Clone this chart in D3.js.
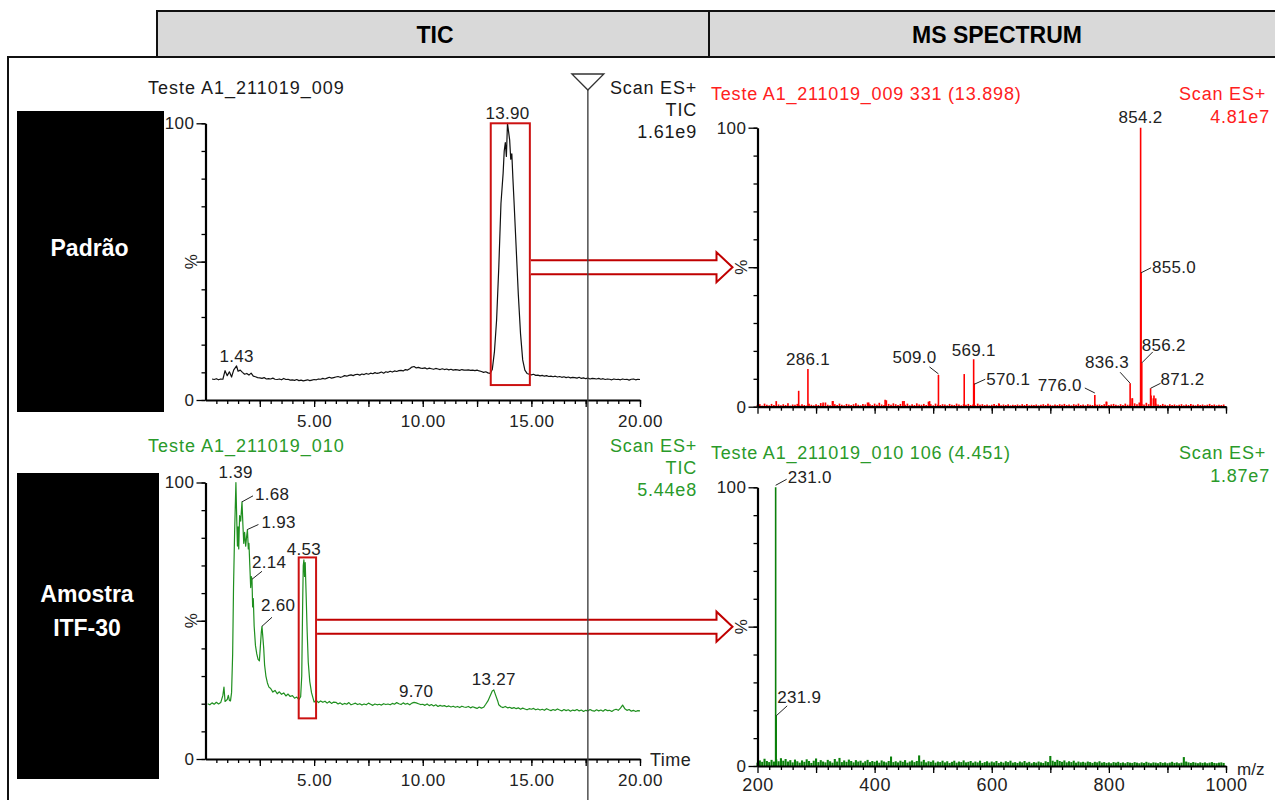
<!DOCTYPE html>
<html><head><meta charset="utf-8">
<script src="https://cdn.jsdelivr.net/npm/d3@7"></script>
<style>
body{margin:0;background:#fff;}
svg{display:block;}
</style></head><body>
<svg id="c" width="1275" height="800"></svg>
<script>
// ---------------- DATA ----------------
const headerLabels = ["TIC", "MS SPECTRUM"];
const sampleLabels = [["Padrão"], ["Amostra", "ITF-30"]];
const ticTitles = ["Teste A1_211019_009", "Teste A1_211019_010"];
const ticInfo = [["Scan ES+", "TIC", "1.61e9"], ["Scan ES+", "TIC", "5.44e8"]];
const msTitles = ["Teste A1_211019_009 331 (13.898)", "Teste A1_211019_010 106 (4.451)"];
const msInfo = [["Scan ES+", "4.81e7"], ["Scan ES+", "1.87e7"]];
const ticTickValues = [5, 10, 15, 20];
const ticTickLabels = ["5.00", "10.00", "15.00", "20.00"];
const mzTickValues = [200, 400, 600, 800, 1000];
const mzTickLabels = ["200", "400", "600", "800", "1000"];
const cursorTime = 17.6;

// TIC, standard (time min, % intensity)
const ticStandard = [[0.3,7.6],[0.4,7.4],[0.5,7.7],[0.6,7.3],[0.7,7.6],[0.8,7.5],[0.9,10.6],[1.0,8.8],[1.1,10.2],[1.2,8.3],[1.3,10.9],[1.43,12.3],[1.5,10.4],[1.6,10.8],[1.7,10.0],[1.8,9.3],[1.9,9.6],
[2.0,9.0],[2.1,9.7],[2.2,8.6],[2.3,8.4],[2.4,8.1],[2.5,8.0],[2.6,7.8],[2.7,8.1],[2.8,7.6],[2.9,7.7],
[3.0,7.6],[3.1,7.9],[3.2,7.5],[3.3,7.4],[3.4,7.6],[3.5,7.3],[3.6,7.8],[3.7,7.4],[3.8,7.5],[3.9,7.2],
[4.0,7.3],[4.1,7.1],[4.2,7.4],[4.3,7.0],[4.4,7.2],[4.5,6.9],[4.6,7.1],[4.7,7.3],[4.8,7.0],[4.9,7.2],
[5.0,7.4],[5.1,7.3],[5.2,7.6],[5.3,7.5],[5.4,7.8],[5.5,7.6],[5.6,7.9],[5.7,8.2],[5.8,7.9],[5.9,8.1],
[6.0,8.3],[6.1,8.5],[6.2,8.2],[6.3,8.4],[6.4,8.8],[6.5,8.6],[6.6,8.9],[6.7,9.1],[6.8,8.8],[6.9,9.2],
[7.0,9.3],[7.1,9.0],[7.2,9.4],[7.3,9.2],[7.4,9.6],[7.5,9.3],[7.6,9.7],[7.7,9.5],[7.8,9.9],[7.9,9.6],
[8.0,9.8],[8.1,10.1],[8.2,9.7],[8.3,10.2],[8.4,10.0],[8.5,10.4],[8.6,10.1],[8.7,10.5],[8.8,10.3],[8.9,10.6],
[9.0,10.7],[9.1,10.5],[9.2,11.0],[9.3,10.8],[9.4,11.3],[9.5,11.9],[9.6,12.1],[9.7,11.6],[9.8,11.8],[9.9,11.5],
[10.0,11.4],[10.1,11.6],[10.2,11.2],[10.3,11.5],[10.4,11.3],[10.5,11.1],[10.6,11.4],[10.7,11.2],[10.8,11.0],[10.9,11.3],
[11.0,11.0],[11.1,11.2],[11.2,10.9],[11.3,11.1],[11.4,10.8],[11.5,11.0],[11.6,10.9],[11.7,10.7],[11.8,11.0],[11.9,10.8],
[12.0,10.8],[12.1,10.9],[12.2,10.7],[12.3,10.8],[12.4,10.6],[12.5,10.8],[12.6,10.5],[12.7,10.3],[12.8,10.0],[12.9,10.2],
[13.0,9.8],[13.1,9.6],[13.2,11.0],[13.3,17.5],[13.4,29],[13.5,48],[13.6,71],[13.7,82],[13.75,90],[13.8,93],[13.85,88],[13.9,100],[13.95,97],[14.0,94],[14.05,87],[14.1,89],[14.15,80],[14.2,72],[14.3,55],[14.4,38],[14.5,24],[14.6,14.5],[14.7,10.8],[14.8,9.6],[14.9,9.3],
[15.0,9.1],[15.1,9.3],[15.2,8.9],[15.3,9.0],[15.4,8.7],[15.5,8.9],[15.6,8.6],[15.7,8.8],[15.8,8.5],[15.9,8.6],
[16.0,8.4],[16.1,8.6],[16.2,8.3],[16.3,8.5],[16.4,8.2],[16.5,8.4],[16.6,8.1],[16.7,8.3],[16.8,8.0],[16.9,8.2],
[17.0,8.1],[17.1,7.9],[17.2,8.2],[17.3,7.8],[17.4,8.0],[17.5,7.7],[17.6,7.9],[17.7,7.6],[17.8,7.8],[17.9,7.7],
[18.0,7.6],[18.1,7.8],[18.2,7.5],[18.3,7.7],[18.4,7.4],[18.5,7.6],[18.6,7.5],[18.7,7.3],[18.8,7.6],[18.9,7.4],
[19.0,7.5],[19.1,7.3],[19.2,7.6],[19.3,7.4],[19.4,7.5],[19.5,7.2],[19.6,7.5],[19.7,7.6],[19.8,7.3],[19.9,7.5],[20.0,7.4]];

// TIC, sample ITF-30
const ticSample = [[0.1,20.0],[0.2,19.6],[0.3,20.3],[0.4,19.8],[0.5,20.5],[0.6,19.9],[0.7,20.4],[0.8,23.0],[0.85,26.0],[0.9,20.8],[1.0,21.5],[1.05,23.0],[1.1,21.2],[1.15,21.0],
[1.2,24],[1.25,38],[1.29,62],[1.34,82],[1.40,100],[1.44,86],[1.47,77],[1.5,84],[1.53,76],[1.57,88],[1.62,86],[1.68,93],[1.72,85],[1.76,78],[1.8,82],[1.85,77],[1.9,81],[1.93,83],[1.97,76],[2.0,78],[2.04,70],[2.08,62],[2.11,66],[2.14,65],[2.17,55],[2.2,58],[2.24,48],[2.3,41],[2.36,38],[2.42,36],[2.48,35.5],[2.52,40],[2.57,46],[2.6,48],[2.63,45],[2.68,40],[2.72,34],[2.78,30],[2.85,27.5],[2.92,26],
[3.0,25.5],[3.1,24.2],[3.2,24.8],[3.3,23.6],[3.4,24.3],[3.5,23.4],[3.6,23.9],[3.7,22.8],[3.8,23.5],[3.9,22.6],
[4.0,22.9],[4.1,22.0],[4.2,22.4],[4.3,21.5],[4.38,22.5],[4.43,30],[4.47,55],[4.5,70],[4.53,72],[4.56,66],[4.59,71],[4.63,60],[4.68,46],[4.73,35],[4.8,28],[4.88,24],[4.95,22],
[5.0,20.6],[5.1,21.2],[5.2,20.4],[5.3,21.0],[5.4,20.5],[5.5,20.9],[5.6,20.2],[5.7,20.8],[5.8,20.1],[5.9,20.6],
[6.0,20.5],[6.1,19.9],[6.2,20.3],[6.3,19.7],[6.4,20.1],[6.5,19.8],[6.6,20.4],[6.7,19.6],[6.8,19.9],[6.9,20.2],
[7.0,19.7],[7.1,20.0],[7.2,19.5],[7.3,19.9],[7.4,19.6],[7.5,20.2],[7.6,19.8],[7.7,19.4],[7.8,19.9],[7.9,19.6],
[8.0,19.8],[8.1,19.5],[8.2,20.0],[8.3,19.7],[8.4,19.9],[8.5,19.6],[8.6,20.1],[8.7,19.8],[8.8,20.4],[8.9,20.0],
[9.0,19.7],[9.1,20.3],[9.2,19.8],[9.3,20.1],[9.4,19.6],[9.5,20.2],[9.6,20.5],[9.7,20.3],[9.8,20.0],[9.9,19.7],
[10.0,19.8],[10.1,19.4],[10.2,19.9],[10.3,19.3],[10.4,19.7],[10.5,19.2],[10.6,19.6],[10.7,19.0],[10.8,19.4],[10.9,19.1],
[11.0,19.3],[11.1,18.9],[11.2,19.2],[11.3,18.8],[11.4,19.1],[11.5,18.7],[11.6,19.0],[11.7,18.6],[11.8,19.1],[11.9,18.8],
[12.0,18.7],[12.1,19.0],[12.2,18.5],[12.3,18.9],[12.4,18.6],[12.5,18.3],[12.6,18.8],[12.7,18.4],[12.8,18.7],[12.9,19.8],
[13.0,21.0],[13.1,22.8],[13.2,24.6],[13.27,25.0],[13.35,23.2],[13.45,21.0],[13.5,19.6],[13.6,18.9],[13.7,18.6],[13.8,19.0],[13.9,18.5],
[14.0,18.7],[14.1,18.3],[14.2,18.6],[14.3,18.2],[14.4,18.5],[14.5,18.0],[14.6,18.4],[14.7,18.1],[14.8,17.8],[14.9,18.2],
[15.0,18.0],[15.1,18.3],[15.2,17.8],[15.3,18.1],[15.4,17.7],[15.5,18.0],[15.6,17.6],[15.7,18.2],[15.8,17.8],[15.9,17.5],
[16.0,17.9],[16.1,17.6],[16.2,18.1],[16.3,17.7],[16.4,17.4],[16.5,17.9],[16.6,17.5],[16.7,17.8],[16.8,17.3],[16.9,17.7],
[17.0,17.5],[17.1,17.9],[17.2,17.4],[17.3,17.7],[17.4,17.2],[17.5,17.6],[17.6,17.4],[17.7,17.9],[17.8,17.5],[17.9,17.3],
[18.0,17.8],[18.1,17.4],[18.2,17.7],[18.3,17.3],[18.4,17.9],[18.5,17.5],[18.6,17.6],[18.7,17.2],[18.8,17.7],[18.9,18.0],
[19.0,17.6],[19.1,18.4],[19.2,19.5],[19.3,18.2],[19.4,17.6],[19.5,17.9],[19.6,17.3],[19.7,17.6],[19.8,17.2],[19.9,17.5],[20.0,17.4]];

// labelled TIC peaks (time, % at label)
const ticStandardPeaks = [{label:"1.43", t:1.43, v:12.3}, {label:"13.90", t:13.90, v:100}];
const ticSamplePeaks = [{label:"1.39", t:1.39, v:100}, {label:"1.68", t:1.68, v:93}, {label:"1.93", t:1.93, v:83},
  {label:"2.14", t:2.14, v:65}, {label:"2.60", t:2.60, v:48}, {label:"4.53", t:4.53, v:72},
  {label:"9.70", t:9.70, v:20.5}, {label:"13.27", t:13.27, v:25}];

// selected scan windows on the TIC: [t start, t end, % low, % high]
const selectStandard = [13.13, 14.93, 5.4, 100];
const selectSample = [4.29, 5.09, 14.7, 72.9];

// MS spectrum, standard (scan 331)
const msStandardMz  = [270.3, 286.1, 312.0, 328.9, 389.9, 417.9, 450.3, 493.9, 509.0, 553.0, 569.1, 570.1, 612.8, 776.0, 795.8, 836.3, 840.0, 854.2, 855.0, 856.2, 871.2, 877.0, 880.0];
const msStandardInt = [5.7, 13.5, 1.5, 2.0, 1.5, 2.5, 2.0, 2.0, 11.4, 11.7, 17.0, 8.4, 1.0, 4.2, 1.8, 8.4, 3.0, 100, 48, 15.7, 6.6, 4.0, 3.0];
const msStandardLabels = ["286.1", "509.0", "569.1", "570.1", "776.0", "836.3", "854.2", "855.0", "856.2", "871.2"];
// baseline noise, m/z 200..996 every 4
const msStandardNoise = [
0.6,0.9,0.4,1.1,0.7,0.5,1.0,0.6,2.0,0.8, 0.5,0.9,0.6,1.2,0.4,0.8,0.7,1.0,0.5,0.9,
0.6,0.4,1.1,0.7,0.5,0.9,0.6,1.3,0.8,1.5, 0.7,0.5,2.0,0.9,0.6,1.1,0.7,0.5,1.0,0.8,
0.6,0.9,1.2,0.7,0.5,1.0,0.8,1.5,0.9,0.6, 1.1,0.7,1.4,0.8,0.6,2.3,1.0,0.7,1.2,0.9,
0.6,1.0,2.0,0.7,1.1,0.5,0.9,0.6,1.2,0.8, 0.7,1.0,0.6,1.8,0.9,0.5,1.1,0.7,0.6,0.9,
0.8,0.5,1.0,0.7,0.6,1.1,0.8,0.5,0.9,0.7, 1.0,0.6,0.8,0.5,1.1,0.7,0.9,0.6,0.8,0.5,
0.7,1.0,0.6,1.2,0.5,0.8,0.6,0.9,0.5,0.7, 0.6,0.8,0.5,0.9,0.6,1.0,0.5,0.7,0.6,0.8,
0.5,0.7,0.9,0.6,1.1,0.7,0.5,0.8,0.6,0.9, 0.7,1.0,0.6,0.8,0.5,0.9,0.7,1.1,0.6,0.8,
0.5,0.9,0.7,0.6,1.0,0.7,0.8,0.6,0.9,1.8, 0.6,0.8,1.0,0.7,0.5,0.9,0.6,1.1,0.7,0.8,
3.0,1.2,0.9,1.5,1.0,0.8,1.4,0.9,4.0,3.0, 1.1,0.8,0.6,1.0,0.7,0.5,0.9,0.6,0.8,0.5,
0.7,0.9,0.5,0.8,0.6,1.0,0.7,0.5,0.9,0.6, 0.8,0.5,0.7,1.0,0.6,0.8,0.5,0.7,0.6,0.8];

// MS spectrum, sample (scan 106)
const msSampleMz  = [231.0, 231.9];
const msSampleInt = [100, 18];
const msSampleLabels = ["231.0", "231.9"];
const msSampleNoise = [
1.2,2.0,1.5,2.6,1.8,1.4,2.2,1.6,2.4,1.7, 2.8,1.9,2.5,1.6,2.1,1.3,2.3,1.7,1.2,2.0,
1.5,2.4,1.8,1.1,1.9,2.7,1.4,2.1,1.6,1.3, 2.2,1.7,1.2,2.5,1.6,2.9,1.4,2.0,1.5,2.3,
1.8,1.3,2.1,1.6,1.9,1.2,1.7,2.2,1.4,1.8, 1.5,1.9,1.2,2.0,1.6,1.3,1.8,3.4,1.4,1.7,
1.3,1.9,1.5,2.1,1.2,1.6,2.0,1.4,1.8,3.8, 1.6,2.2,1.3,1.7,1.5,2.0,1.2,1.6,1.4,1.9,
1.3,1.7,1.1,1.5,1.9,1.2,1.6,1.4,2.0,1.3, 1.5,1.8,1.2,1.6,1.3,1.9,1.1,1.4,1.7,1.2,
1.6,1.3,1.8,1.1,1.5,1.2,1.7,1.4,1.9,1.2, 1.4,1.1,1.6,1.3,1.8,1.2,1.5,1.0,1.4,1.2,
1.6,1.3,1.1,1.7,1.4,3.6,1.9,1.5,2.2,1.8, 1.5,2.0,1.3,1.7,1.4,1.9,1.2,1.6,1.3,1.5,
1.2,1.6,1.4,1.1,1.5,1.3,1.7,1.2,1.4,1.1, 1.3,1.0,1.4,1.2,1.5,1.1,1.3,1.0,1.4,1.2,
1.1,1.4,1.2,1.0,1.3,1.1,1.5,1.2,1.0,1.3, 1.2,1.0,1.4,1.1,1.3,1.0,1.2,1.5,1.1,1.3,
1.0,1.2,3.2,1.6,1.3,1.1,1.4,1.2,1.0,1.3, 1.1,1.3,1.0,1.2,1.4,1.1,1.0,1.2,1.3,1.1];
const noiseStart = 200, noiseStep = 4;

// ---------------- DRAWING ----------------
const FONT = '"Liberation Sans", Arial, Helvetica, sans-serif';
const svg = d3.select("#c").attr("font-family", FONT);

// label placement styles (offsets from the peak apex in px)
const labelStyle = {
  "1.43": {a:"middle", dx:0, dy:-4}, "13.90": {a:"middle", dx:0, dy:-4},
  "1.39": {a:"middle", dx:0, dy:-5}, "4.53": {a:"middle", dx:0, dy:-5},
  "9.70": {a:"middle", dx:0, dy:-5}, "13.27": {a:"middle", dx:0, dy:-5},
  "1.68": {a:"start", dx:13, dy:-2, l:[0,0,11,-6]},
  "1.93": {a:"start", dx:14, dy:-2, l:[0,0,11,-5]},
  "2.14": {a:"start", dx:0, dy:-11, l:[0,0,10,-8]},
  "2.60": {a:"start", dx:-1, dy:-15, l:[0,0,10,-9]},
  "286.1": {a:"middle", dx:0, dy:-4}, "569.1": {a:"middle", dx:0, dy:-3}, "854.2": {a:"middle", dx:0, dy:-5},
  "509.0": {a:"end", dx:-2, dy:-12, l:[0,-1,-9,-8]},
  "570.1": {a:"start", dx:12, dy:2, l:[0,1,11,-4]},
  "776.0": {a:"end", dx:-13, dy:-4, l:[0,-2,-10,-7]},
  "836.3": {a:"end", dx:-1, dy:-15, l:[0,0,-10,-11]},
  "855.0": {a:"start", dx:11, dy:0, l:[0,0,10,-5]},
  "856.2": {a:"start", dx:0, dy:-12, l:[0,0,11,-11]},
  "871.2": {a:"start", dx:10, dy:-3, l:[0,0,10,-5]},
  "231.0": {a:"start", dx:12, dy:-4, l:[0,-2,11,-8]},
  "231.9": {a:"start", dx:1, dy:-13, l:[0,0,11,-10]}
};

// header
const headerCells = [[157, 709], [709, 1290]];
headerCells.forEach((c, i) => {
  svg.append("rect").attr("x", c[0]).attr("y", 11).attr("width", c[1]-c[0]).attr("height", 46)
    .attr("fill", "#d9d9d9").attr("stroke", "#111").attr("stroke-width", 2);
  svg.append("text").attr("x", i === 0 ? 435 : 997).attr("y", 43).attr("text-anchor", "middle")
    .attr("font-weight", "bold").attr("font-size", 23).attr("fill", "#000").text(headerLabels[i]);
});
svg.append("path").attr("d", "M8,800V57H157").attr("fill", "none").attr("stroke", "#111").attr("stroke-width", 2);

// sample name boxes
const boxes = [{x:17, y:111, w:147, h:301, cy:[256]}, {x:17, y:473, w:142, h:306, cy:[602, 636]}];
boxes.forEach((b, i) => {
  svg.append("rect").attr("x", b.x).attr("y", b.y).attr("width", b.w).attr("height", b.h).attr("fill", "#000");
  sampleLabels[i].forEach((s, j) => svg.append("text").attr("x", b.x + b.w/2 - 1).attr("y", b.cy[j])
    .attr("text-anchor", "middle").attr("font-weight", "bold").attr("font-size", 23).attr("fill", "#fff").text(s));
});

const x = d3.scaleLinear().domain([0, 20]).range([205.5, 640]);
const mz = d3.scaleLinear().domain([200, 1000]).range([757.5, 1226]);

function styleAxis(g, fs) {
  g.select(".domain").attr("stroke", "#000").attr("stroke-width", 2.2);
  g.selectAll(".tick line").attr("stroke", "#000").attr("stroke-width", 1.3);
  g.selectAll("text").attr("font-family", FONT).attr("font-size", fs || 17).attr("fill", "#222").attr("letter-spacing", 0.5);
}

function yAxis(xPos, y, pctX) {
  const g = svg.append("g").attr("transform", `translate(${xPos},0)`);
  g.call(d3.axisLeft(y).tickValues(d3.range(0, 101, 10)).tickSize(4).tickSizeOuter(0).tickFormat(""));
  styleAxis(g);
  const g2 = svg.append("g").attr("transform", `translate(${xPos},0)`);
  g2.call(d3.axisLeft(y).tickValues([0, 50, 100]).tickSize(9).tickPadding(2).tickFormat(d => d === 50 ? "" : d));
  g2.select(".domain").remove();
  styleAxis(g2);
  svg.append("text").attr("transform", `translate(${pctX},${y(50)}) rotate(-90)`).attr("text-anchor", "middle")
    .attr("dominant-baseline", "central").attr("font-size", 17).attr("fill", "#222").text("%");
}

function peakLabels(list, px, py, color) {
  list.forEach(p => {
    const s = labelStyle[p.label];
    const X = px(p), Y = py(p);
    if (s.l) svg.append("line").attr("x1", X + s.l[0]).attr("y1", Y + s.l[1]).attr("x2", X + s.l[2]).attr("y2", Y + s.l[3])
      .attr("stroke", "#222").attr("stroke-width", 1);
    svg.append("text").attr("x", X + s.dx).attr("y", Y + s.dy).attr("text-anchor", s.a)
      .attr("font-size", 17).attr("letter-spacing", 0.3).attr("fill", color).text(p.label);
  });
}

const panels = [
  {tic: ticStandard, peaks: ticStandardPeaks, sel: selectStandard, tTop: 123.3, tBot: 400, titleY: 94,
   textColor: "#1a1a1a", trace: "#111", infoColor: "#1a1a1a",
   msMz: msStandardMz, msInt: msStandardInt, msLabels: msStandardLabels, noise: msStandardNoise, noiseW: 1.7,
   mTop: 127.7, mBot: 406.7, mTitleY: 100, msColor: "#ff0000", msText: "#ff2020", mzLabels: false},
  {tic: ticSample, peaks: ticSamplePeaks, sel: selectSample, tTop: 482.5, tBot: 759, titleY: 452,
   textColor: "#2a9a2a", trace: "#1f8f1f", infoColor: "#2a9a2a",
   msMz: msSampleMz, msInt: msSampleInt, msLabels: msSampleLabels, noise: msSampleNoise, noiseW: 2.1,
   mTop: 487.3, mBot: 766, mTitleY: 459, msColor: "#0b800b", msText: "#2a9a2a", mzLabels: true}
];

panels.forEach((p, i) => {
  // ---------- TIC ----------
  const y = d3.scaleLinear().domain([0, 100]).range([p.tBot, p.tTop]);
  svg.append("text").attr("x", 148).attr("y", p.titleY).attr("font-size", 18).attr("letter-spacing", 1)
    .attr("fill", p.textColor).text(ticTitles[i]);
  ticInfo[i].forEach((s, j) => svg.append("text").attr("x", 697).attr("y", p.titleY + j * 22)
    .attr("text-anchor", "end").attr("font-size", 18).attr("letter-spacing", 0.8).attr("fill", p.infoColor).text(s));

  svg.append("path").datum(p.tic).attr("fill", "none").attr("stroke", p.trace).attr("stroke-width", 1.2)
    .attr("stroke-linejoin", "round")
    .attr("d", d3.line().x(d => x(d[0])).y(d => y(d[1])));

  yAxis(x(0), y, 191);
  const gx = svg.append("g").attr("transform", `translate(0,${p.tBot})`);
  gx.call(d3.axisBottom(x).tickValues(d3.range(0.5, 20.01, 0.5)).tickSize(4).tickSizeOuter(0).tickFormat(""));
  styleAxis(gx);
  const gx2 = svg.append("g").attr("transform", `translate(0,${p.tBot})`);
  gx2.call(d3.axisBottom(x).tickValues(d3.range(2.5, 20.01, 2.5)).tickSize(7).tickFormat(""));
  gx2.select(".domain").remove(); styleAxis(gx2);
  const gx3 = svg.append("g").attr("transform", `translate(0,${p.tBot})`);
  gx3.call(d3.axisBottom(x).tickValues(ticTickValues).tickSize(0).tickPadding(15).tickFormat((d, k) => ticTickLabels[k]));
  gx3.select(".domain").remove(); styleAxis(gx3);
  if (i === 1) svg.append("text").attr("x", 650).attr("y", p.tBot + 7).attr("font-size", 18).attr("letter-spacing", 0.5)
    .attr("fill", "#222").text("Time");

  peakLabels(p.peaks, d => x(d.t), d => y(d.v), "#222");

  // ---------- MS spectrum ----------
  const my = d3.scaleLinear().domain([0, 100]).range([p.mBot, p.mTop]);
  svg.append("text").attr("x", 711).attr("y", p.mTitleY).attr("font-size", 18).attr("letter-spacing", 0.8)
    .attr("fill", p.msText).text(msTitles[i]);
  msInfo[i].forEach((s, j) => svg.append("text").attr("x", j === 0 ? 1266 : 1270).attr("y", p.mTitleY + j * 23)
    .attr("text-anchor", "end").attr("font-size", 18).attr("letter-spacing", 0.8).attr("fill", p.msText).text(s));

  svg.append("g").selectAll("line").data(p.noise).join("line")
    .attr("x1", (d, k) => mz(noiseStart + k * noiseStep)).attr("x2", (d, k) => mz(noiseStart + k * noiseStep))
    .attr("y1", my(0)).attr("y2", d => my(d)).attr("stroke", p.msColor).attr("stroke-width", p.noiseW);
  svg.append("g").selectAll("line").data(p.msMz).join("line")
    .attr("x1", d => mz(d)).attr("x2", d => mz(d))
    .attr("y1", my(0)).attr("y2", (d, k) => my(p.msInt[k])).attr("stroke", p.msColor).attr("stroke-width", 1.6);

  yAxis(mz(200), my, 741);
  const mx = svg.append("g").attr("transform", `translate(0,${p.mBot})`);
  mx.call(d3.axisBottom(mz).tickValues(d3.range(220, 1000.1, 20)).tickSize(4).tickSizeOuter(0).tickFormat(""));
  styleAxis(mx);
  const mx2 = svg.append("g").attr("transform", `translate(0,${p.mBot})`);
  mx2.call(d3.axisBottom(mz).tickValues(d3.range(200, 1000.1, 100)).tickSize(7).tickFormat(""));
  mx2.select(".domain").remove(); styleAxis(mx2);
  if (p.mzLabels) {
    const mx3 = svg.append("g").attr("transform", `translate(0,${p.mBot})`);
    mx3.call(d3.axisBottom(mz).tickValues(mzTickValues).tickSize(0).tickPadding(12).tickFormat((d, k) => mzTickLabels[k]));
    mx3.select(".domain").remove(); styleAxis(mx3, 18);
    svg.append("text").attr("x", 1237).attr("y", p.mBot + 9).attr("font-size", 17).attr("fill", "#222").text("m/z");
  }
  const lab = p.msLabels.map(l => { const k = p.msMz.indexOf(+l); return {label: l, m: p.msMz[k], v: p.msInt[k]}; });
  peakLabels(lab, d => mz(d.m), d => my(d.v), "#222");

  // ---------- selection box and arrow ----------
  const s = p.sel;
  svg.append("rect").attr("x", x(s[0])).attr("y", y(s[3])).attr("width", x(s[1]) - x(s[0]))
    .attr("height", y(s[2]) - y(s[3])).attr("fill", "none").attr("stroke", "#cc1111").attr("stroke-width", 2);
  const x0 = x(s[1]) + 1, tip = mz(200) - 25, cy = my(50), hb = tip - 16;
  svg.append("path").attr("d", `M${x0},${cy-7}H${hb}V${cy-15}L${tip},${cy}L${hb},${cy+15}V${cy+7}H${x0}`)
    .attr("fill", "#fff").attr("stroke", "#c00000").attr("stroke-width", 2);
});

// cursor line with marker
const cx = x(cursorTime);
svg.append("line").attr("x1", cx).attr("x2", cx).attr("y1", 89).attr("y2", 800).attr("stroke", "#444").attr("stroke-width", 1.4);
svg.append("path").attr("d", `M${cx-16},74H${cx+16}L${cx},90Z`).attr("fill", "#fff").attr("stroke", "#333").attr("stroke-width", 1.3);
</script>
</body></html>
